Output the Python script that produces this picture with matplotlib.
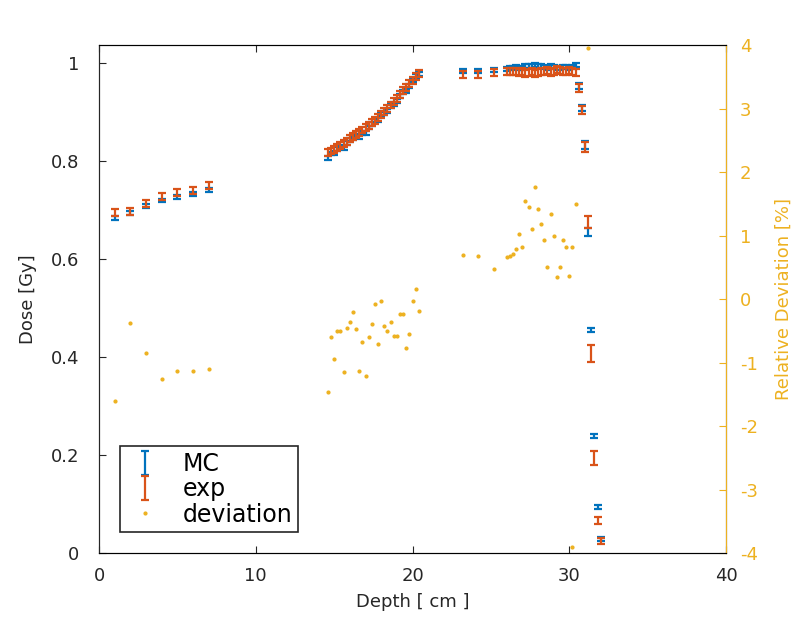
import numpy as np
import matplotlib.pyplot as plt

# dose values [Gy]
depth = [1, 2, 3, 4, 5, 6, 7,
         14.6, 14.8, 15.0, 15.2, 15.4, 15.6, 15.8, 16.0, 16.2, 16.4,
         16.6, 16.8, 17.0, 17.2, 17.4, 17.6, 17.8, 18.0, 18.2, 18.4,
         18.6, 18.8, 19.0, 19.2, 19.4, 19.6, 19.8, 20.0, 20.2, 20.4,
         23.2, 24.2, 25.2,
         26.0, 26.2, 26.4, 26.6, 26.8, 27.0, 27.2, 27.4, 27.6, 27.8,
         28.0, 28.2, 28.4, 28.6, 28.8, 29.0, 29.2, 29.4, 29.6, 29.8,
         30.0, 30.2, 30.4,
         30.6, 30.8, 31.0, 31.2, 31.4, 31.6, 31.8, 32.0]
dose_exp = [0.696, 0.697, 0.714, 0.729, 0.736, 0.741, 0.750,
            0.818, 0.821, 0.825, 0.829, 0.833, 0.837, 0.841, 0.846, 0.850, 0.855,
            0.859, 0.864, 0.869, 0.874, 0.879, 0.884, 0.890, 0.896, 0.902, 0.908,
            0.915, 0.922, 0.929, 0.936, 0.944, 0.951, 0.958, 0.965, 0.973, 0.980,
            0.977, 0.978, 0.982,
            0.983, 0.984, 0.983, 0.984, 0.981, 0.983, 0.980, 0.981, 0.983, 0.980,
            0.981, 0.983, 0.984, 0.986, 0.982, 0.983, 0.987, 0.985, 0.983, 0.984,
            0.986, 0.984, 0.982,
            0.950, 0.905, 0.830, 0.676, 0.408, 0.194, 0.067, 0.025]
dose_mc = [0.685, 0.694, 0.708, 0.720, 0.728, 0.733, 0.742,
           0.806, 0.816, 0.817, 0.825, 0.829, 0.827, 0.837, 0.843, 0.848, 0.851,
           0.849, 0.858, 0.858, 0.869, 0.876, 0.883, 0.884, 0.896, 0.898, 0.903,
           0.912, 0.917, 0.924, 0.934, 0.942, 0.944, 0.953, 0.965, 0.975, 0.978,
           0.984, 0.985, 0.987,
           0.989, 0.991, 0.990, 0.992, 0.991, 0.991, 0.995, 0.995, 0.994, 0.997,
           0.995, 0.995, 0.993, 0.991, 0.995, 0.993, 0.990, 0.990, 0.992, 0.992,
           0.990, 0.992, 0.997,
           0.953, 0.908, 0.833, 0.656, 0.455, 0.239, 0.094, 0.030]

# relative deviation [%]
dev_depth = [1, 2, 3, 4, 5, 6, 7,
             14.6, 14.8, 15.0, 15.2, 15.4, 15.6, 15.8, 16.0, 16.2, 16.4,
             16.6, 16.8, 17.0, 17.2, 17.4, 17.6, 17.8, 18.0, 18.2, 18.4,
             18.6, 18.8, 19.0, 19.2, 19.4, 19.6, 19.8, 20.0, 20.2, 20.4,
             23.2, 24.2, 25.2,
             26.0, 26.2, 26.4, 26.6, 26.8, 27.0, 27.2, 27.4, 27.6, 27.8,
             28.0, 28.2, 28.4, 28.6, 28.8, 29.0, 29.2, 29.4, 29.6, 29.8,
             30.0, 30.2, 30.4, 30.2, 31.2]
dev = [-1.6, -0.37, -0.84, -1.26, -1.13, -1.13, -1.1,
       -1.46, -0.6, -0.94, -0.5, -0.5, -1.15, -0.45, -0.36, -0.2, -0.47,
       -1.13, -0.68, -1.21, -0.6, -0.39, -0.08, -0.71, -0.03, -0.42, -0.5,
       -0.36, -0.58, -0.58, -0.24, -0.24, -0.76, -0.55, -0.03, 0.16, -0.19,
       0.69, 0.68, 0.47,
       0.66, 0.68, 0.71, 0.79, 1.02, 0.82, 1.54, 1.45, 1.1, 1.76,
       1.42, 1.18, 0.94, 0.5, 1.34, 0.99, 0.35, 0.5, 0.94, 0.82,
       0.36, 0.82, 1.5, -3.9, 3.95]

err_mc = [0.004] * 63 + [0.006, 0.006, 0.008, 0.008, 0.004, 0.004, 0.004, 0.004]
err_exp = [0.007] * 63 + [0.008, 0.008, 0.010, 0.012, 0.018, 0.014, 0.008, 0.006]

blue = '#0072BD'
orange = '#D95319'
yellow = '#EDB120'
dark = '#262626'

plt.rcParams['font.family'] = ['DejaVu Sans']
plt.rcParams['axes.unicode_minus'] = False
fig = plt.figure(figsize=(8.05, 6.28), dpi=100)
ax = fig.add_axes([0.123, 0.119, 0.779, 0.809])

h_mc = ax.errorbar(depth, dose_mc, yerr=err_mc, fmt='none', ecolor=blue,
                   elinewidth=1.6, capsize=3, capthick=1.6, label='MC')
h_exp = ax.errorbar(depth, dose_exp, yerr=err_exp, fmt='none', ecolor=orange,
                    elinewidth=1.6, capsize=3, capthick=1.6, label='exp')

ax.set_xlim(0, 40)
ax.set_ylim(0, 1.037)
ax.set_xticks([0, 10, 20, 30, 40])
ax.set_yticks([0, 0.2, 0.4, 0.6, 0.8, 1])
ax.set_yticklabels(['0', '0.2', '0.4', '0.6', '0.8', '1'])
ax.tick_params(direction='in', labelsize=13, colors=dark, length=5, top=True)
ax.tick_params(axis='x', pad=10)
ax.tick_params(axis='y', pad=14)
ax.set_xlabel('Depth [ cm ]', fontsize=13, color=dark, labelpad=6)
ax.set_ylabel('Dose [Gy]', fontsize=13, color=dark, labelpad=10)
for s in ['left', 'bottom', 'top']:
    ax.spines[s].set_color(dark)

ax2 = ax.twinx()
h_dev, = ax2.plot(dev_depth, dev, '.', color=yellow, markersize=4, label='deviation')
ax2.set_ylim(-4, 4)
ax2.set_yticks(range(-4, 5))
ax2.tick_params(direction='in', labelsize=13, colors=yellow, length=5, pad=10)
ax2.spines['right'].set_color(yellow)
ax2.spines['left'].set_color(dark)
ax2.set_ylabel('Relative Deviation [%]', fontsize=13, color=yellow, labelpad=12)

leg = ax2.legend([h_mc, h_exp, h_dev], ['MC', 'exp', 'deviation'],
                 loc='lower left', bbox_to_anchor=(0.033, 0.041), borderaxespad=0,
                 fontsize=17, fancybox=False, framealpha=1, edgecolor=dark,
                 handlelength=1.6, handletextpad=0.8, borderpad=0.25,
                 labelspacing=0.05)
leg.get_frame().set_linewidth(1.2)

fig.savefig('out.png', dpi=100)
